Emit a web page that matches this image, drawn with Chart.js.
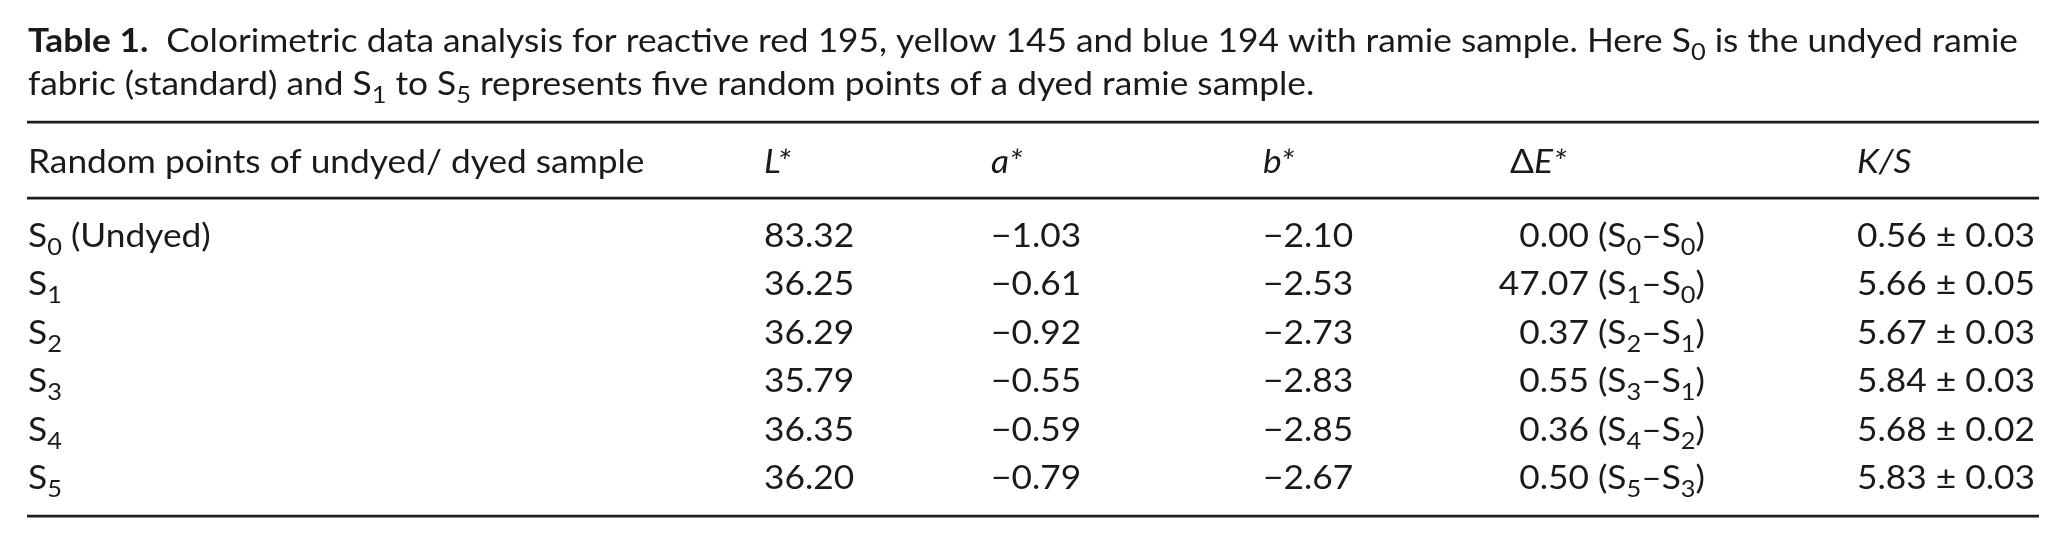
<!DOCTYPE html>
<html>
<head>
<meta charset="utf-8">
<script src="https://cdn.jsdelivr.net/npm/chart.js@4.4.1/dist/chart.umd.min.js"></script>
<style>
html, body { margin: 0; padding: 0; background: #fff; }
#wrap { width: 2065px; height: 538px; position: relative; }
</style>
</head>
<body>
<div id="wrap"><canvas id="mycanvas"></canvas></div>
<script>
// table data
var rows = ['S0', 'S1', 'S2', 'S3', 'S4', 'S5'];
var rowNotes = ['(Undyed)', '', '', '', '', ''];
var lValues = [83.32, 36.25, 36.29, 35.79, 36.35, 36.20];
var aValues = [-1.03, -0.61, -0.92, -0.55, -0.59, -0.79];
var bValues = [-2.10, -2.53, -2.73, -2.83, -2.85, -2.67];
var deltaE = [0.00, 47.07, 0.37, 0.55, 0.36, 0.50];
var deltaRefs = [['S0', 'S0'], ['S1', 'S0'], ['S2', 'S1'], ['S3', 'S1'], ['S4', 'S2'], ['S5', 'S3']];
var ksValues = [0.56, 5.66, 5.67, 5.84, 5.68, 5.83];
var ksErrors = [0.03, 0.05, 0.03, 0.03, 0.02, 0.03];
// ~ toggles italic, _ marks a subscript digit
var headers = ['Random points of undyed/ dyed sample', '~L*~', '~a*~', '~b*~', '\u0394~E*~', '~K/S~'];
var captionLabel = 'Table 1.';
var captionLine1 = '  Colorimetric data analysis for reactive red 195, yellow 145 and blue 194 with ramie sample. Here S_0 is the undyed ramie';
var captionLine2 = 'fabric (standard) and S_1 to S_5 represents five random points of a dyed ramie sample.';

// layout
var FONT = 'Lato';
var FS = 32;
var SUB_FS = 23;
var SUB_DY = 8;
var INK = '#1a1a1a';
var colX = [28, 764, 991, 1263, 1705, 1857];
var colAlign = ['left', 'left', 'left', 'left', 'right', 'left'];
var headX = [28, 764, 991, 1263, 1510, 1857];
var textLeft = 28, textRight = 2018;
var ruleLeft = 27, ruleRight = 2039;
// positions in row units of the y scale
var captionRows = [-4.03, -3.14];
var headerRow = -1.53;
var ruleRows = [-2.58, -1.01, 5.56];

function minus(v) {
	return (v < 0 ? '\u2212' : '') + Math.abs(v).toFixed(2);
}
function sub(s) {
	return s.replace(/S(\d)/g, 'S_$1');
}

var cellText = [
	rows.map(function(r, i) { return sub(r) + (rowNotes[i] ? ' ' + rowNotes[i] : ''); }),
	lValues.map(function(v) { return v.toFixed(2); }),
	aValues.map(minus),
	bValues.map(minus),
	deltaE.map(function(v, i) { return v.toFixed(2) + ' (' + sub(deltaRefs[i][0]) + '\u2013' + sub(deltaRefs[i][1]) + ')'; }),
	ksValues.map(function(v, i) { return v.toFixed(2) + ' \u00b1 ' + ksErrors[i].toFixed(2); })
];

function parseRich(str, bold) {
	var segs = [], buf = '', italic = false;
	function flush() { if (buf) { segs.push({t: buf, italic: italic, bold: bold}); buf = ''; } }
	for (var i = 0; i < str.length; i++) {
		var ch = str[i];
		if (ch === '~') { flush(); italic = !italic; }
		else if (ch === '_') { flush(); segs.push({t: str[i + 1], italic: italic, bold: bold, sub: true}); i++; }
		else buf += ch;
	}
	flush();
	return segs;
}

function segFont(s) {
	return (s.italic ? 'italic ' : '') + (s.bold ? 'bold ' : '') + (s.sub ? SUB_FS : FS) + 'px ' + FONT;
}

function segWidth(ctx, segs) {
	var w = 0;
	segs.forEach(function(s) { ctx.font = segFont(s); w += ctx.measureText(s.t).width; });
	return w;
}

var squeeze = 1;

function drawRich(ctx, segs, x, y, align) {
	var w = segWidth(ctx, segs) * squeeze;
	var x0 = align === 'right' ? x - w : x;
	ctx.save();
	ctx.translate(x0, y);
	ctx.scale(squeeze, 1);
	var cx = 0;
	segs.forEach(function(s) {
		ctx.font = segFont(s);
		ctx.fillText(s.t, cx, s.sub ? SUB_DY : 0);
		cx += ctx.measureText(s.t).width;
	});
	ctx.restore();
}

var tablePlugin = {
	id: 'tablePlugin',
	afterDatasetsDraw: function(chart) {
		var ctx = chart.ctx;
		var xs = chart.scales.x, ys = chart.scales.y;
		ctx.save();
		ctx.fillStyle = INK;
		ctx.textBaseline = 'alphabetic';

		var cap1 = parseRich(captionLabel, true).concat(parseRich(captionLine1, false));
		squeeze = (textRight - textLeft) / segWidth(ctx, cap1);

		drawRich(ctx, cap1, xs.getPixelForValue(textLeft), ys.getPixelForValue(captionRows[0]), 'left');
		drawRich(ctx, parseRich(captionLine2, false), xs.getPixelForValue(textLeft), ys.getPixelForValue(captionRows[1]), 'left');

		ctx.strokeStyle = '#1e1e1e';
		ctx.lineWidth = 2.6;
		ruleRows.forEach(function(r) {
			var y = ys.getPixelForValue(r);
			ctx.beginPath();
			ctx.moveTo(xs.getPixelForValue(ruleLeft), y);
			ctx.lineTo(xs.getPixelForValue(ruleRight), y);
			ctx.stroke();
		});

		headers.forEach(function(h, c) {
			drawRich(ctx, parseRich(h, false), xs.getPixelForValue(headX[c]), ys.getPixelForValue(headerRow), 'left');
		});

		chart.data.datasets.forEach(function(ds, d) {
			var meta = chart.getDatasetMeta(d);
			meta.data.forEach(function(pt, i) {
				drawRich(ctx, parseRich(ds.cellText[i], false), pt.x, pt.y, ds.align);
			});
		});
		ctx.restore();
	}
};

var datasets = cellText.map(function(texts, c) {
	return {
		label: headers[c],
		data: rows.map(function(r) { return {x: colX[c], y: r}; }),
		cellText: texts,
		align: colAlign[c],
		pointRadius: 0,
		pointHoverRadius: 0,
		showLine: false
	};
});

var ctx = document.getElementById('mycanvas');
var table = new Chart(ctx, {
	type: 'scatter',
	data: { datasets: datasets },
	options: {
		responsive: true,
		maintainAspectRatio: false,
		animation: false,
		events: [],
		layout: { padding: { top: 222.8, bottom: 24.8, left: 0, right: 0 } },
		plugins: { legend: { display: false }, tooltip: { enabled: false } },
		scales: {
			x: { type: 'linear', min: 0, max: 2065, display: false },
			y: { type: 'category', labels: rows, offset: true, display: false }
		}
	},
	plugins: [tablePlugin]
});
</script>
</body>
</html>
